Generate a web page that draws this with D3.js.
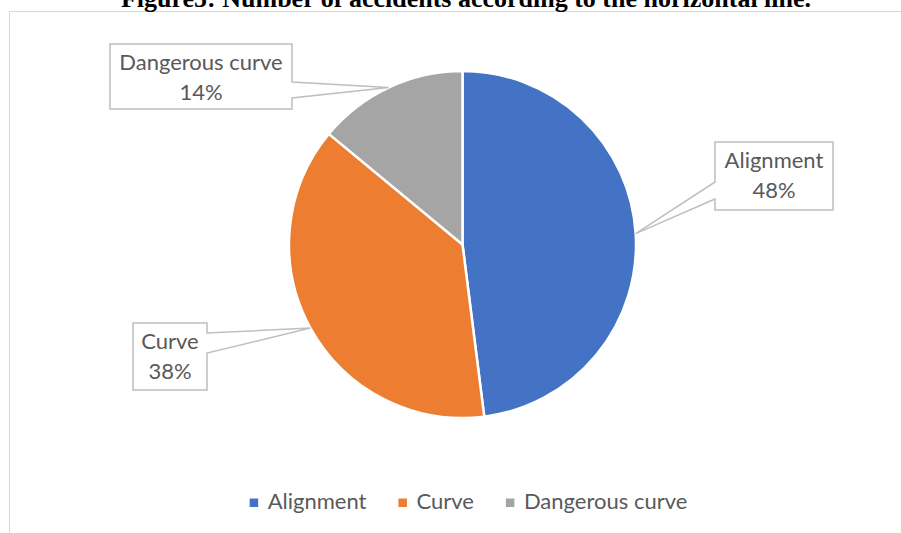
<!DOCTYPE html>
<html>
<head>
<meta charset="utf-8">
<script src="https://cdn.jsdelivr.net/npm/d3@7"></script>
<style>
  html, body { margin: 0; padding: 0; background: #fff; }
  svg { display: block; }
</style>
</head>
<body>
<svg id="chart" width="901" height="533"></svg>
<script>
// Accident shares by horizontal alignment type (percent)
const categories = ["Alignment", "Curve", "Dangerous curve"];
const values = [48, 38, 14];
const colors = ["#4472C4", "#ED7D31", "#A5A5A5"];
const titleText = "Figure5: Number of accidents according to the horizontal line.";

const W = 901, H = 533;
const cx = 462.5, cy = 244.5, R = 173.5;
const labelFont = "Lato, 'Open Sans', sans-serif";
const labelSize = 22;
const textColor = "#595959";
const calloutStroke = "#BFBFBF";

// Callout boxes: [left, top, width, height, side of pointer, pointer base y offsets]
const calloutLayout = [
  { x: 715, y: 142, w: 118, h: 68, side: "left",  b0: 40, b1: 57 },
  { x: 133, y: 323, w: 74,  h: 67, side: "right", b0: 10, b1: 30 },
  { x: 110, y: 44,  w: 182, h: 65, side: "right", b0: 38, b1: 54 }
];

const svg = d3.select("#chart");

// Chart frame
svg.append("rect")
  .attr("x", 9.5).attr("y", 11.5)
  .attr("width", W + 40).attr("height", H + 40)
  .attr("fill", "#fff").attr("stroke", "#D9D9D9").attr("stroke-width", 1);

// Title (runs above the frame's top edge)
svg.append("text")
  .attr("x", 466).attr("y", 7)
  .attr("text-anchor", "middle")
  .attr("font-family", "'Liberation Serif', 'Times New Roman', serif")
  .attr("font-weight", "bold")
  .attr("font-size", 26)
  .attr("fill", "#000")
  .text(titleText);

const total = d3.sum(values);
const pie = d3.pie().sort(null).value(d => d)(values);
const arc = d3.arc().innerRadius(0).outerRadius(R);

const g = svg.append("g").attr("transform", `translate(${cx},${cy})`);
g.selectAll("path.slice")
  .data(pie)
  .join("path")
  .attr("class", "slice")
  .attr("d", arc)
  .attr("fill", (d, i) => colors[i])
  .attr("stroke", "#fff")
  .attr("stroke-width", 2.5)
  .attr("stroke-linejoin", "round");

// Data callouts
pie.forEach((d, i) => {
  const L = calloutLayout[i];
  const mid = (d.startAngle + d.endAngle) / 2;
  const tx = cx + R * Math.sin(mid);
  const ty = cy - R * Math.cos(mid);
  const x0 = L.x, x1 = L.x + L.w, y0 = L.y, y1 = L.y + L.h;
  let p;
  if (L.side === "right") {
    p = `M${x0},${y0}H${x1}V${y0 + L.b0}L${tx},${ty}L${x1},${y0 + L.b1}V${y1}H${x0}Z`;
  } else {
    p = `M${x0},${y0}H${x1}V${y1}H${x0}V${y0 + L.b1}L${tx},${ty}L${x0},${y0 + L.b0}Z`;
  }
  svg.append("path")
    .attr("d", p)
    .attr("fill", "#fff")
    .attr("stroke", calloutStroke)
    .attr("stroke-width", 1.5)
    .attr("stroke-linejoin", "miter");
  const t = svg.append("text")
    .attr("text-anchor", "middle")
    .attr("font-family", labelFont)
    .attr("font-size", labelSize)
    .attr("fill", textColor);
  const mx = (x0 + x1) / 2;
  t.append("tspan").attr("x", mx).attr("y", y0 + 26).text(categories[i]);
  t.append("tspan").attr("x", mx).attr("y", y0 + 56)
    .text(Math.round(values[i] / total * 100) + "%");
});

// Legend
const legend = svg.append("g");
let lx = 0;
categories.forEach((c, i) => {
  const it = legend.append("g").attr("transform", `translate(${lx},0)`);
  it.append("rect").attr("x", 0).attr("y", -10.5).attr("width", 8.5).attr("height", 8.5)
    .attr("fill", colors[i]);
  const tx = it.append("text").attr("x", 18).attr("y", 0)
    .attr("font-family", labelFont).attr("font-size", labelSize)
    .attr("fill", textColor).text(c);
  const w = tx.node().getComputedTextLength();
  lx += 18 + w + 32;
});
const legendWidth = lx - 32;
legend.attr("transform", `translate(${468.5 - legendWidth / 2},509)`);
</script>
</body>
</html>
